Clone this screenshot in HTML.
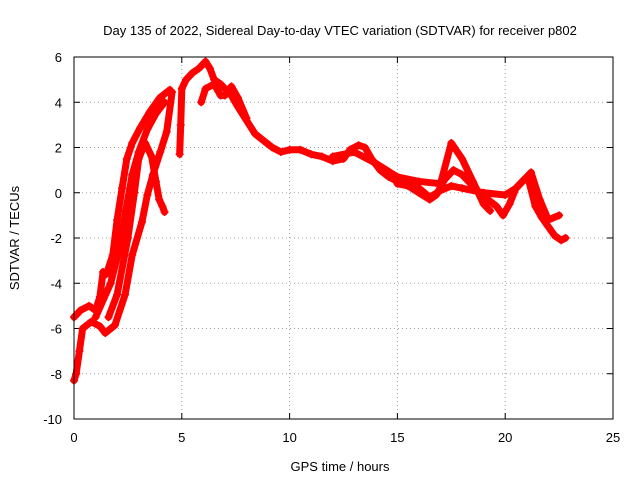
<!DOCTYPE html>
<html><head><meta charset="utf-8"><style>
body{margin:0;background:#fff;width:640px;height:480px;overflow:hidden}
text{font-family:"Liberation Sans",sans-serif;font-size:13px;fill:#000}
</style></head><body>
<svg id="chart" width="640" height="480" xmlns="http://www.w3.org/2000/svg">
<text x="340" y="35" text-anchor="middle">Day 135 of 2022, Sidereal Day-to-day VTEC variation (SDTVAR) for receiver p802</text>
<text x="340" y="471" text-anchor="middle">GPS time / hours</text>
<text transform="translate(19,238) rotate(-90)" text-anchor="middle">SDTVAR / TECUs</text>
<g id="grid"></g><g id="ticks"></g><g id="marks"></g>
<rect x="74" y="57" width="539" height="362" fill="none" stroke="#000" stroke-width="1"/>
</svg>
<script>
const xTicks=[0,5,10,15,20,25];
const yTicks=[-10,-8,-6,-4,-2,0,2,4,6];
const track1T=[0,0.3,0.7,1.0,1.2,1.35,1.5,1.8,2.0,2.23,2.45,2.7,3.06,3.5,3.98,4.45];
const track1V=[-5.5,-5.2,-5.0,-5.2,-4.6,-3.5,-3.6,-2.75,-1.2,0.2,1.5,2.2,2.85,3.55,4.2,4.55];
const track2T=[0,0.1,0.25,0.4,0.8,1.2,1.45,1.9,2.37,2.7,3.15,3.4,3.66,4.0,4.3,4.55];
const track2V=[-8.3,-8.0,-7.0,-6.0,-5.7,-5.9,-6.2,-5.85,-4.5,-2.75,-1.3,-0.1,0.8,1.8,2.7,4.45];
const track3T=[1.6,2.0,2.5,2.8,3.0,3.3,3.6,3.8,3.95,4.1,4.2];
const track3V=[-5.5,-4.5,-2.0,0.0,1.5,2.2,1.6,0.5,-0.3,-0.6,-0.85];
const track4T=[4.9,4.95,5.0,5.2,5.5,5.8,6.1,6.3,6.5,6.8,7.0,7.3,7.6,8.0,8.4,8.8,9.2,9.6,10.0,10.5,11.0,11.5,12.0,12.5,12.8,13.2,13.5,13.8,14.2,14.6,15.0,15.5,16.0,16.5,16.8,17.2,17.6,18.0,18.4,18.8,19.2,19.6,19.9,20.2,20.5,20.9,21.1,21.4,21.7,22.0,22.3,22.6,22.8];
const track4V=[1.7,3.0,4.6,5.0,5.3,5.5,5.8,5.5,5.0,4.8,4.6,4.3,3.8,3.2,2.6,2.3,2.0,1.8,1.9,1.9,1.7,1.6,1.4,1.5,1.9,2.1,2.0,1.5,1.0,0.7,0.5,0.3,0.0,-0.3,-0.1,0.6,1.0,0.8,0.4,0.0,-0.3,-0.6,-1.0,-0.5,0.2,0.6,0.5,-0.6,-1.1,-1.5,-1.9,-2.1,-2.0];
const track5T=[5.9,6.1,6.5,6.8,7.0,7.3,7.6,8.0];
const track5V=[4.0,4.6,4.8,4.3,4.3,4.7,4.2,3.3];
const track6T=[12,13,14,15,16,17,17.5,18,18.5,19,19.3];
const track6V=[1.6,1.8,1.3,0.7,0.5,0.4,2.2,1.5,0.5,-0.5,-0.8];
const track7T=[15,16,16.5,17,17.5,18,19,20,20.5,21.2,21.6,22,22.5];
const track7V=[0.4,0.2,-0.2,0.1,0.3,0.2,0.0,-0.1,0.2,0.9,-0.3,-1.2,-1.0];
const track8T=[1.0,1.7,2.1,2.4,2.7,3.0,3.4,3.8,4.2];
const track8V=[-5.5,-4.0,-2.5,-0.8,0.8,1.8,2.8,3.5,4.0];
const tracks=[[track1T,track1V],[track2T,track2V],[track3T,track3V],[track4T,track4V],[track5T,track5V],[track6T,track6V],[track7T,track7V],[track8T,track8V]];
const NS="http://www.w3.org/2000/svg";
const X0=74,X1=613,Y0=419,Y1=57;
function sx(t){return X0+(t-0)/(25-0)*(X1-X0);}
function sy(v){return Y0-(v+10)/16*(Y0-Y1);}
const grid=document.getElementById('grid'),ticks=document.getElementById('ticks'),marks=document.getElementById('marks');
function mk(tag,a,p){const e=document.createElementNS(NS,tag);for(const k in a)e.setAttribute(k,a[k]);p.appendChild(e);return e;}
xTicks.forEach(t=>{const x=sx(t);
 if(t>0&&t<25){const g=mk('line',{x1:x,x2:x,y1:Y1,y2:Y0,stroke:'#a0a0a0','stroke-dasharray':'1,3'},grid);
 
 }
 mk('line',{x1:x,x2:x,y1:Y0,y2:Y0-6,stroke:'#000'},ticks);
 mk('line',{x1:x,x2:x,y1:Y1,y2:Y1+6,stroke:'#000'},ticks);
 const l=mk('text',{x:x,y:442,'text-anchor':'middle'},ticks);l.textContent=t;
 
 });
yTicks.forEach(v=>{const y=sy(v);
 if(v>-10&&v<6){const g=mk('line',{x1:X0,x2:X1,y1:y,y2:y,stroke:'#a0a0a0','stroke-dasharray':'1,3'},grid);
 
 }
 mk('line',{x1:X0,x2:X0+6,y1:y,y2:y,stroke:'#000'},ticks);
 mk('line',{x1:X1,x2:X1-6,y1:y,y2:y,stroke:'#000'},ticks);
 const l=mk('text',{x:62,y:y+5,'text-anchor':'end'},ticks);l.textContent=v;
 
 });
tracks.forEach(([T,V])=>{
 const pts=T.map((t,i)=>sx(t)+','+sy(V[i])).join(' ');
 const pl=mk('polyline',{points:pts,fill:'none',stroke:'#f00','stroke-width':7,'stroke-linejoin':'round','stroke-linecap':'round'},marks);
 
 
 T.forEach((t,i)=>{const x=sx(t),y=sy(V[i]);
  const p=mk('path',{d:`M${x-4},${y}h8M${x},${y-4}v8`,stroke:'#f00','stroke-width':1.5},marks);
  
  });
});
</script>
</body></html>
